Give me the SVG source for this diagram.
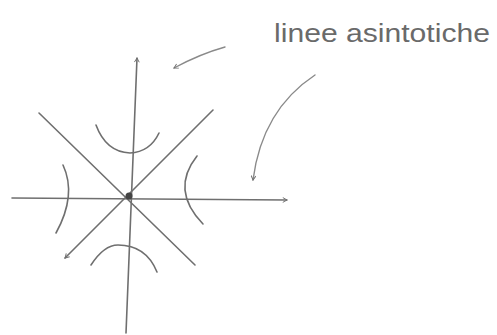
<svg xmlns="http://www.w3.org/2000/svg" width="497" height="335" viewBox="0 0 497 335">
<style>
.s{fill:none;stroke:#6f6f6f;stroke-width:1.6;stroke-linecap:round;stroke-linejoin:round}
.c{fill:none;stroke:#8a8a8a;stroke-width:1.4;stroke-linecap:round}
.t{font-family:"Liberation Sans",Arial,sans-serif;font-size:26px;fill:#6a6a6a}
</style>
<defs>
<marker id="ah" viewBox="0 0 10 10" refX="8" refY="5" markerWidth="6" markerHeight="6" orient="auto-start-reverse" markerUnits="userSpaceOnUse">
<path d="M1,1 L8,5 L1,9" fill="none" stroke="#6f6f6f" stroke-width="1.6"/>
</marker>
</defs>
<rect width="497" height="335" fill="#fff"/>
<g id="axes">
<path class="s" d="M126,333 L137,58" marker-end="url(#ah)"/>
<path class="s" d="M12,198 L287,200" marker-end="url(#ah)"/>
<path class="s" d="M39,113 L195,265"/>
<path class="s" d="M213,110 L65,258" marker-end="url(#ah)"/>
<circle cx="129" cy="196" r="3.5" fill="#444"/>
</g>
<g id="branches">
<path class="s" d="M96,125 Q106,152 130,153 Q150,152 159,133"/>
<path class="s" d="M91,265 Q104,245 118,245 Q146,245 157,272"/>
<path class="s" d="M63,165 Q77,195 56,233"/>
<path class="s" d="M197,156 Q170,190 203,224"/>
</g>
<g id="label">
<text class="t" x="274" y="42" textLength="216" lengthAdjust="spacingAndGlyphs">linee asintotiche</text>
</g>
<g id="connectors">
<path class="c" d="M225,47 Q200,54 174,68" marker-end="url(#ah)"/>
<path class="c" d="M315,75 Q262,110 253,180" marker-end="url(#ah)"/>
</g>
</svg>
